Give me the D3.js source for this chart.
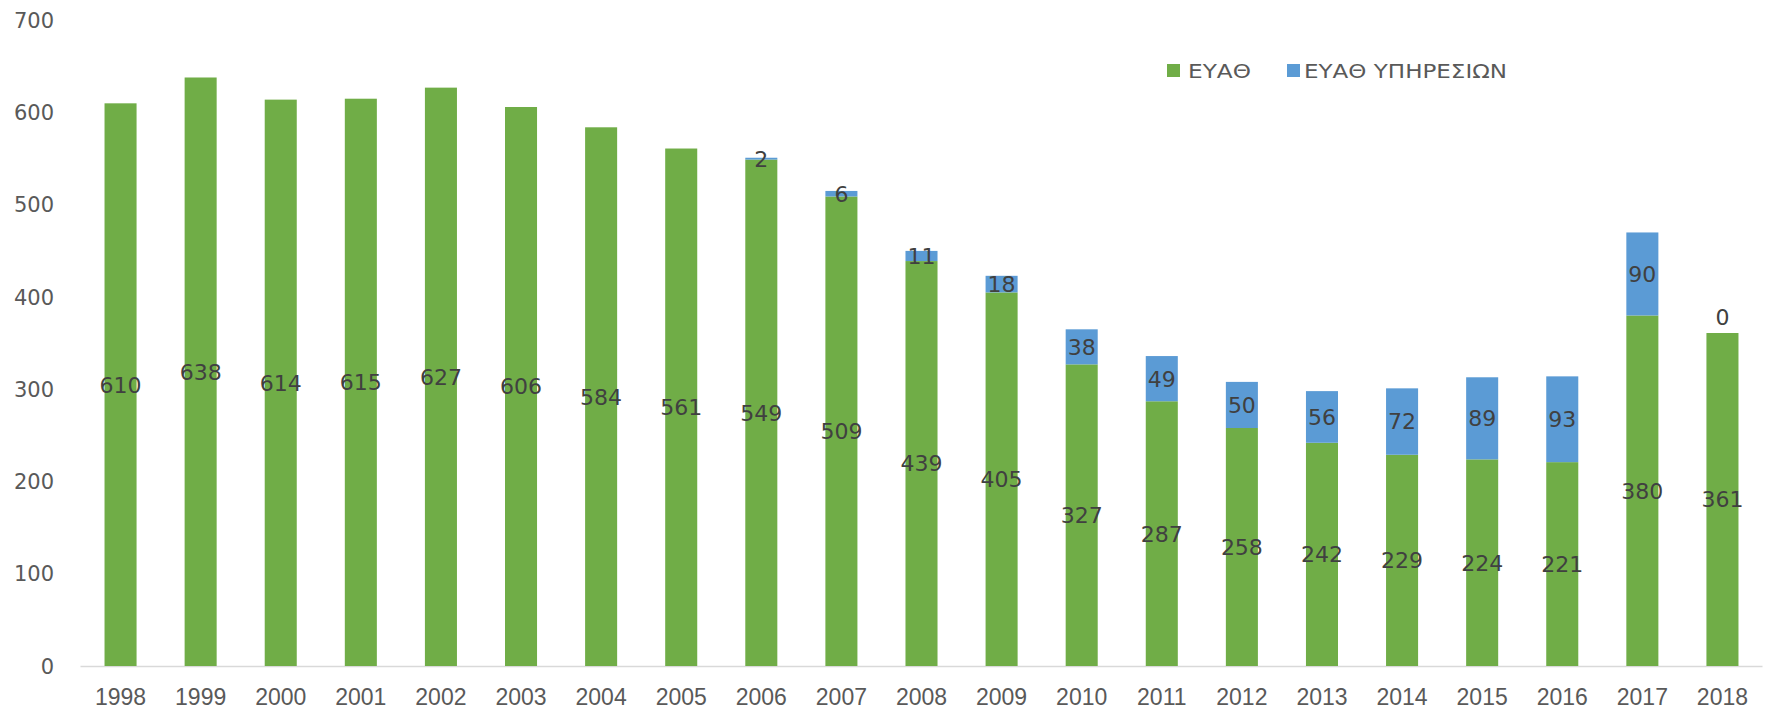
<!DOCTYPE html>
<html>
<head>
<meta charset="utf-8">
<script src="https://cdn.jsdelivr.net/npm/d3@7.9.0/dist/d3.min.js"></script>
<style>
  html, body { margin: 0; padding: 0; background: #fff; }
  svg { display: block; }
</style>
</head>
<body>
<svg id="chart" width="1767" height="714"></svg>
<script>
const years = ['1998', '1999', '2000', '2001', '2002', '2003', '2004', '2005', '2006', '2007',
  '2008', '2009', '2010', '2011', '2012', '2013', '2014', '2015', '2016', '2017', '2018'];
const eyath = [610, 638, 614, 615, 627, 606, 584, 561, 549, 509, 439, 405, 327, 287, 258, 242, 229, 224, 221, 380, 361];
const eyathServices = [null, null, null, null, null, null, null, null, 2, 6, 11, 18, 38, 49, 50, 56, 72, 89, 93, 90, 0];
const seriesNames = ['ΕΥΑΘ', 'ΕΥΑΘ ΥΠΗΡΕΣΙΩΝ'];
const yTicks = [0, 100, 200, 300, 400, 500, 600, 700];

const colors = ['#70AD47', '#5B9BD5'];

const svg = d3.select('#chart');

const x = d3.scaleBand()
  .domain(years)
  .range([80.5, 1762.5])
  .paddingInner(0.6)
  .paddingOuter(0.3);

const y = d3.scaleLinear().domain([0, 700]).range([666, 20.3]);

const rows = years.map((year, i) => ({
  year,
  a: eyath[i],
  b: eyathServices[i] === null ? 0 : eyathServices[i],
  bLabel: eyathServices[i]
}));

const layers = d3.stack().keys(['a', 'b'])(rows);

// baseline
svg.append('line')
  .attr('x1', 80.5).attr('x2', 1762.5)
  .attr('y1', y(0) + 0.5).attr('y2', y(0) + 0.5)
  .attr('stroke', '#d9d9d9')
  .attr('stroke-width', 1.5);

// bars
layers.forEach((layer, k) => {
  svg.append('g')
    .selectAll('rect')
    .data(layer)
    .join('rect')
    .attr('x', (d) => x(d.data.year))
    .attr('width', x.bandwidth())
    .attr('y', (d) => y(d[1]))
    .attr('height', (d) => y(d[0]) - y(d[1]))
    .attr('fill', colors[k]);
});

// y axis labels
svg.append('g')
  .selectAll('text')
  .data(yTicks)
  .join('text')
  .attr('x', 54)
  .attr('y', (d) => y(d))
  .attr('dy', '0.36em')
  .attr('text-anchor', 'end')
  .attr('font-family', 'DejaVu Sans, sans-serif')
  .attr('font-size', 21)
  .attr('fill', '#595959')
  .text((d) => d);

// x axis labels
svg.append('g')
  .selectAll('text')
  .data(years)
  .join('text')
  .attr('x', (d) => x(d) + x.bandwidth() / 2)
  .attr('y', 697)
  .attr('dy', '0.36em')
  .attr('text-anchor', 'middle')
  .attr('font-family', 'Liberation Sans, Arial, sans-serif')
  .attr('font-size', 23)
  .attr('fill', '#595959')
  .text((d) => d);

// data labels
const labelStyle = (sel) => sel
  .attr('text-anchor', 'middle')
  .attr('dy', '0.36em')
  .attr('font-family', 'DejaVu Sans, sans-serif')
  .attr('font-size', 22)
  .attr('fill', '#404040');

svg.append('g')
  .selectAll('text')
  .data(layers[0])
  .join('text')
  .attr('x', (d) => x(d.data.year) + x.bandwidth() / 2)
  .attr('y', (d) => y((d[0] + d[1]) / 2))
  .call(labelStyle)
  .text((d) => d.data.a);

svg.append('g')
  .selectAll('text')
  .data(layers[1].filter((d) => d.data.bLabel !== null))
  .join('text')
  .attr('x', (d) => x(d.data.year) + x.bandwidth() / 2)
  .attr('y', (d) => d.data.bLabel === 0 ? y(d[1]) - 16 : y((d[0] + d[1]) / 2))
  .call(labelStyle)
  .text((d) => d.data.bLabel);

// legend
const legend = svg.append('g');
const legendX = [1167, 1287];
const legendTextX = [1188, 1304];
const legendTextW = [63, 203];
seriesNames.forEach((name, i) => {
  legend.append('rect')
    .attr('x', legendX[i])
    .attr('y', 64)
    .attr('width', 13)
    .attr('height', 13)
    .attr('fill', colors[i]);
  legend.append('text')
    .attr('x', legendTextX[i])
    .attr('y', 71)
    .attr('dy', '0.36em')
    .attr('font-family', 'DejaVu Sans, sans-serif')
    .attr('font-size', 20)
    .attr('textLength', legendTextW[i])
    .attr('lengthAdjust', 'spacingAndGlyphs')
    .attr('fill', '#595959')
    .text(name);
});
</script>
</body>
</html>
